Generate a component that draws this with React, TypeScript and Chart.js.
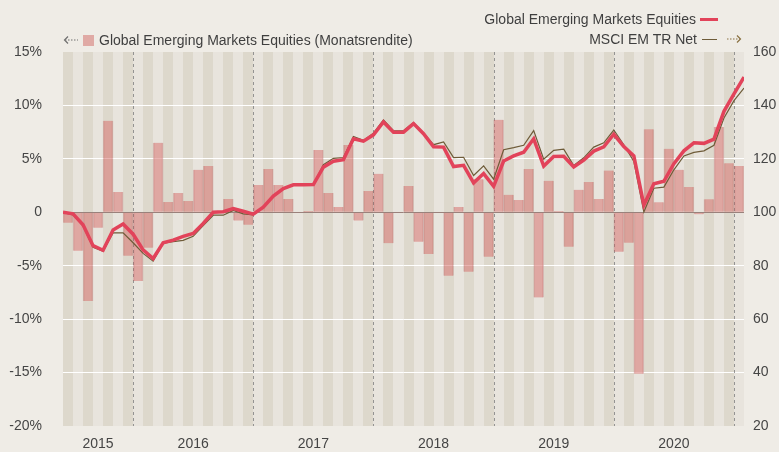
import React, { useEffect, useRef } from 'react';
import { Chart, registerables } from 'chart.js';

Chart.register(...registerables);

// ---- DATA ----
const months: string[] = [
  '2015-06', '2015-07', '2015-08', '2015-09', '2015-10', '2015-11', '2015-12',
  '2016-01', '2016-02', '2016-03', '2016-04', '2016-05', '2016-06', '2016-07', '2016-08', '2016-09', '2016-10', '2016-11', '2016-12',
  '2017-01', '2017-02', '2017-03', '2017-04', '2017-05', '2017-06', '2017-07', '2017-08', '2017-09', '2017-10', '2017-11', '2017-12',
  '2018-01', '2018-02', '2018-03', '2018-04', '2018-05', '2018-06', '2018-07', '2018-08', '2018-09', '2018-10', '2018-11', '2018-12',
  '2019-01', '2019-02', '2019-03', '2019-04', '2019-05', '2019-06', '2019-07', '2019-08', '2019-09', '2019-10', '2019-11', '2019-12',
  '2020-01', '2020-02', '2020-03', '2020-04', '2020-05', '2020-06', '2020-07', '2020-08', '2020-09', '2020-10', '2020-11', '2020-12',
  '2021-01',
];

const yearLabels: string[] = ['2015', '2016', '2017', '2018', '2019', '2020'];

// Monthly returns (%) of Global Emerging Markets Equities
const monthlyReturns: number[] = [
  -0.97, -3.6, -8.3, -1.44, 8.56, 1.9, -4.06,
  -6.44, -3.31, 6.5, 0.97, 1.81, 1.06, 3.97, 4.34, 0.1, 1.25, -0.78, -1.16,
  2.56, 4.06, 2.56, 1.25, 0, 0.12, 5.84, 1.8, 0.5, 6.3, -0.78, 2.0,
  3.6, -2.9, 0, 2.47, -2.75, -3.9, 0, -5.94, 0.5, -5.56, 3.1, -4.16,
  8.66, 1.63, 1.16, 4.06, -7.97, 2.94, 0.12, -3.22, 2.1, 2.84, 1.25, 3.9,
  -3.69, -2.84, -15.1, 7.78, 0.94, 5.94, 3.97, 2.375, -0.19, 1.22, 7.97, 4.6,
  4.34,
];

// Indexed performance (start = 100), one value per month boundary
const fundIndex: number[] = [
  100, 99.4, 95.3, 87.5, 85.8, 93.4, 95.6, 91.8,
  85.9, 82.7, 88.6, 89.6, 91.0, 92.1, 95.8, 100.0, 100.2, 101.4, 100.4, 99.3,
  101.9, 106.1, 108.9, 110.3, 110.3, 110.4, 116.9, 119.1, 119.7, 127.5, 126.6, 129.0,
  133.8, 130.0, 130.0, 133.2, 129.4, 124.5, 124.4, 117.1, 117.6, 111.0, 114.5, 109.7,
  119.2, 121.1, 122.5, 127.5, 117.3, 120.9, 121.0, 117.0, 119.5, 122.9, 124.5, 129.2,
  124.6, 121.1, 102.7, 110.7, 111.6, 118.2, 123.0, 126.0, 125.8, 127.4, 137.8, 144.3,
  150.6,
];

const msciIndex: number[] = [
  100, 99.0, 94.9, 86.9, 85.4, 92.3, 92.3, 88.6,
  84.6, 81.7, 88.4, 89.0, 89.5, 91.0, 95.0, 98.9, 98.9, 100.7, 99.4, 99.0,
  101.8, 105.8, 108.9, 110.2, 110.2, 110.3, 117.8, 120.2, 120.5, 128.4, 126.9, 129.6,
  134.6, 130.6, 130.5, 133.6, 129.7, 125.3, 126.3, 120.5, 120.6, 113.8, 117.4, 112.4,
  123.4, 124.2, 125.1, 130.6, 119.9, 123.2, 123.6, 117.5, 120.4, 124.4, 126.0, 130.8,
  125.3, 119.0, 100.1, 109.0, 109.4, 115.9, 121.1, 122.4, 123.0, 125.1, 135.3, 141.8,
  146.5,
];

const leftTicks: number[] = [-20, -15, -10, -5, 0, 5, 10, 15];
const rightTicks: number[] = [20, 40, 60, 80, 100, 120, 140, 160];

// ---- STYLE ----
const PAGE_BG = '#efece6';
const STRIPE_DARK = '#ddd8cc';
const STRIPE_LIGHT = '#e8e4dd';
const BAR_COLOR = 'rgba(214, 112, 108, 0.52)';
const RED = '#e2435a';
const BROWN = '#6e5b38';
const TEXT = '#454545';
const FONT = '"Liberation Sans", Arial, Helvetica, sans-serif';

function yearCenter(year: string): number {
  const idx = months.map((m, i) => (m.startsWith(year) ? i : -1)).filter((i) => i >= 0);
  return (idx[0] + idx[idx.length - 1] + 1) / 2;
}

const decorPlugin = {
  id: 'decor',
  beforeDraw(chart: any) {
    const { ctx, chartArea: a, scales } = chart;
    const x = scales.x;
    ctx.save();
    ctx.fillStyle = PAGE_BG;
    ctx.fillRect(0, 0, chart.width, chart.height);
    for (let i = 0; i < months.length; i++) {
      const x0 = Math.round(x.getPixelForValue(i));
      const x1 = Math.round(x.getPixelForValue(i + 1));
      ctx.fillStyle = i % 2 === 0 ? STRIPE_DARK : STRIPE_LIGHT;
      ctx.fillRect(x0, a.top, x1 - x0, a.bottom - a.top);
    }
    ctx.restore();
  },
  beforeDatasetsDraw(chart: any) {
    const { ctx, chartArea: a, scales } = chart;
    const x = scales.x;
    ctx.save();
    ctx.strokeStyle = 'rgba(120,120,120,0.75)';
    ctx.lineWidth = 1;
    ctx.setLineDash([3, 3]);
    months.forEach((m, i) => {
      if (i > 0 && m.endsWith('-01')) {
        const px = Math.round(x.getPixelForValue(i)) + 0.5;
        ctx.beginPath();
        ctx.moveTo(px, a.top);
        ctx.lineTo(px, a.bottom);
        ctx.stroke();
      }
    });
    ctx.restore();
  },
  afterDatasetDraw(chart: any, args: any) {
    const ds = chart.data.datasets[args.index];
    if (ds.type !== 'bar') return;
    const { ctx, chartArea: a, scales } = chart;
    const y0 = Math.round(scales.y.getPixelForValue(0)) + 0.5;
    ctx.save();
    ctx.strokeStyle = '#9a817b';
    ctx.lineWidth = 1;
    ctx.beginPath();
    ctx.moveTo(a.left, y0);
    ctx.lineTo(a.right, y0);
    ctx.stroke();
    ctx.restore();
  },
};

function DottedArrow({ dir, color }: { dir: 'left' | 'right'; color: string }) {
  const left = dir === 'left';
  return (
    <svg width={16} height={10} viewBox="0 0 16 10" style={{ display: 'block' }}>
      <path
        d={left ? 'M5,1.5 L1.5,5 L5,8.5' : 'M11,1.5 L14.5,5 L11,8.5'}
        fill="none"
        stroke={color}
        strokeWidth={1.2}
      />
      <line
        x1={left ? 2 : 1}
        y1={5}
        x2={left ? 15 : 14}
        y2={5}
        stroke={color}
        strokeWidth={1.2}
        strokeDasharray="1.5 1.5"
      />
    </svg>
  );
}

export default function App() {
  const canvasRef = useRef<HTMLCanvasElement | null>(null);

  useEffect(() => {
    const canvas = canvasRef.current;
    if (!canvas) return;
    const zeroPad = (scale: any) => {
      scale.paddingTop = 0;
      scale.paddingBottom = 0;
    };
    const chart = new Chart(canvas, {
      type: 'bar',
      data: {
        datasets: [
          {
            type: 'line',
            label: 'Global Emerging Markets Equities',
            data: fundIndex.map((v, k) => ({ x: k, y: v })),
            yAxisID: 'y2',
            borderColor: RED,
            borderWidth: 3.5,
            pointRadius: 0,
            tension: 0,
            order: 0,
          } as any,
          {
            type: 'line',
            label: 'MSCI EM TR Net',
            data: msciIndex.map((v, k) => ({ x: k, y: v })),
            yAxisID: 'y2',
            borderColor: BROWN,
            borderWidth: 1.2,
            pointRadius: 0,
            tension: 0,
            order: 1,
          } as any,
          {
            type: 'bar',
            label: 'Global Emerging Markets Equities (Monatsrendite)',
            data: monthlyReturns.map((v, i) => ({ x: i + 0.5, y: v })),
            yAxisID: 'y',
            backgroundColor: BAR_COLOR,
            borderColor: 'rgba(170, 80, 80, 0.28)',
            borderWidth: { left: 1, right: 1, top: 0, bottom: 0 },
            borderSkipped: false,
            barPercentage: 1,
            categoryPercentage: 1,
            order: 2,
          } as any,
        ],
      },
      options: {
        responsive: false,
        animation: false,
        devicePixelRatio: 1,
        layout: { padding: { top: 52, bottom: 0, left: 0, right: 0 } },
        plugins: {
          legend: { display: false },
          tooltip: { enabled: false },
        },
        scales: {
          x: {
            type: 'linear',
            min: 0,
            max: months.length,
            offset: false,
            grid: { display: false, drawTicks: false },
            border: { display: false },
            afterBuildTicks: (scale: any) => {
              scale.ticks = yearLabels.map((y) => ({ value: yearCenter(y) }));
            },
            afterFit: (scale: any) => {
              scale.height = 26;
            },
            ticks: {
              autoSkip: false,
              maxRotation: 0,
              padding: 10,
              color: TEXT,
              font: { family: FONT, size: 14 },
              callback: (v: any) => {
                const i = yearLabels.findIndex((y) => Math.abs(yearCenter(y) - Number(v)) < 0.01);
                return i >= 0 ? yearLabels[i] : '';
              },
            },
          },
          y: {
            type: 'linear',
            position: 'left',
            min: -20,
            max: 15,
            afterBuildTicks: (scale: any) => {
              scale.ticks = leftTicks.map((v) => ({ value: v }));
            },
            afterFit: (scale: any) => {
              scale.width = 63;
              zeroPad(scale);
            },
            border: { display: false },
            grid: {
              drawTicks: false,
              lineWidth: 1,
              color: (c: any) => {
                const v = c.tick ? c.tick.value : 0;
                return v === 0 || v === 15 || v === -20 ? 'rgba(0,0,0,0)' : '#ffffff';
              },
            },
            ticks: {
              padding: 21,
              color: TEXT,
              font: { family: FONT, size: 14 },
              callback: (v: any) => (Number(v) === 0 ? '0' : `${v}%`),
            },
          },
          y2: {
            type: 'linear',
            position: 'right',
            min: 20,
            max: 160,
            afterBuildTicks: (scale: any) => {
              scale.ticks = rightTicks.map((v) => ({ value: v }));
            },
            afterFit: (scale: any) => {
              scale.width = 35;
              zeroPad(scale);
            },
            border: { display: false },
            grid: { display: false, drawTicks: false },
            ticks: {
              padding: 9,
              color: TEXT,
              font: { family: FONT, size: 14 },
              callback: (v: any) => `${v}`,
            },
          },
        },
      } as any,
      plugins: [decorPlugin],
    });
    return () => chart.destroy();
  }, []);

  const legendText: React.CSSProperties = {
    fontFamily: FONT,
    fontSize: 14,
    color: '#3f3f3f',
    whiteSpace: 'nowrap',
    lineHeight: '16px',
  };

  return (
    <div
      style={{
        position: 'fixed',
        left: 0,
        top: 0,
        width: 779,
        height: 452,
        background: PAGE_BG,
        overflow: 'hidden',
      }}
    >
      <canvas ref={canvasRef} width={779} height={452} style={{ position: 'absolute', left: 0, top: 0, width: 779, height: 452 }} />
      {/* left legend */}
      <div style={{ position: 'absolute', left: 63, top: 32, display: 'flex', alignItems: 'center', ...legendText }}>
        <DottedArrow dir="left" color="#6f6f6f" />
        <span style={{ display: 'inline-block', width: 11, height: 11, background: '#e0aaa5', marginLeft: 4, marginRight: 5 }} />
        <span>Global Emerging Markets Equities (Monatsrendite)</span>
      </div>
      {/* right legend */}
      <div style={{ position: 'absolute', right: 61, top: 11, display: 'flex', alignItems: 'center', ...legendText }}>
        <span>Global Emerging Markets Equities</span>
        <span style={{ display: 'inline-block', width: 18, height: 3, background: RED, marginLeft: 4 }} />
      </div>
      <div style={{ position: 'absolute', right: 37, top: 31, display: 'flex', alignItems: 'center', ...legendText }}>
        <span>MSCI EM TR Net</span>
        <span style={{ display: 'inline-block', width: 15, height: 1, background: BROWN, marginLeft: 5 }} />
        <span style={{ marginLeft: 9 }}>
          <DottedArrow dir="right" color="#8a7142" />
        </span>
      </div>
    </div>
  );
}
